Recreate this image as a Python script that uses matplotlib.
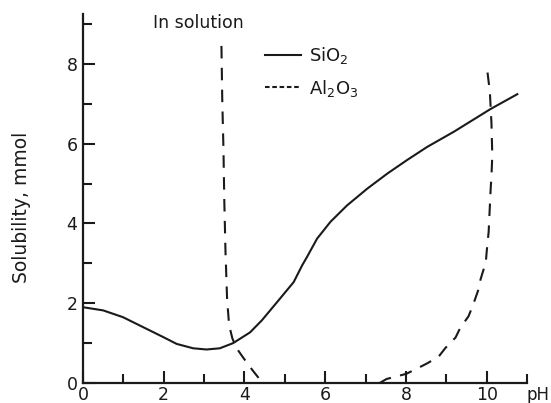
import matplotlib
matplotlib.use("Agg")
import matplotlib.pyplot as plt
from matplotlib.lines import Line2D
from matplotlib.ticker import MultipleLocator

plt.rcParams['font.family'] = ['DejaVu Sans']
plt.rcParams['mathtext.default'] = 'regular'

# SiO2 solubility (solid)
sio2_ph = [0.0, 0.50, 0.99, 1.49, 1.99, 2.32, 2.73, 3.06, 3.39, 3.72, 4.14, 4.43,
           4.81, 5.22, 5.43, 5.55, 5.80, 6.13, 6.54, 7.04, 7.54, 8.03, 8.53,
           9.19, 10.10, 10.76]
sio2_sol = [1.90, 1.82, 1.65, 1.40, 1.15, 0.98, 0.87, 0.84, 0.87, 1.00, 1.27, 1.57,
            2.03, 2.53, 2.95, 3.16, 3.62, 4.04, 4.45, 4.87, 5.25, 5.59, 5.92,
            6.30, 6.87, 7.24]

# Al2O3 solubility (dashed), acid branch
al_acid_ph = [3.43, 3.45, 3.48, 3.50, 3.53, 3.57, 3.62, 3.70, 3.80, 3.98, 4.20, 4.45]
al_acid_sol = [8.45, 7.10, 5.85, 4.60, 3.30, 2.10, 1.45, 1.12, 0.88, 0.62, 0.32, 0.0]

# Al2O3 solubility (dashed), alkaline branch
al_alk_ph = [7.35, 7.52, 8.01, 8.31, 8.54, 8.81, 8.98, 9.23, 9.35, 9.55, 9.65, 9.80,
             9.85, 9.98, 10.00, 10.05, 10.08, 10.10, 10.12, 10.14, 10.13, 10.12,
             10.10, 10.08, 10.02]
al_alk_sol = [0.0, 0.10, 0.23, 0.38, 0.50, 0.66, 0.88, 1.14, 1.39, 1.67, 1.92, 2.35,
              2.60, 3.03, 3.28, 3.79, 4.44, 4.87, 5.20, 5.70, 6.10, 6.50,
              6.90, 7.30, 7.80]

x_major = [0, 2, 4, 6, 8, 10]
y_major = [0, 2, 4, 6, 8]

ink = '#1a1a1a'

fig = plt.figure(figsize=(5.51, 4.03), dpi=100)
ax = fig.add_axes([83/551, 1 - 383/403, (527 - 83)/551, (383 - 14)/403])

ax.plot(sio2_ph, sio2_sol, color=ink, lw=1.5, solid_joinstyle='round')
dash = (0, (6, 4.5))
ax.plot(al_acid_ph, al_acid_sol, color=ink, lw=1.5, linestyle=dash)
ax.plot(al_alk_ph, al_alk_sol, color=ink, lw=1.5, linestyle=dash)

ax.set_xlim(0, 11)
ax.set_ylim(0, 9.25)
ax.set_xticks(x_major)
ax.set_yticks(y_major)
ax.xaxis.set_minor_locator(MultipleLocator(1))
ax.yaxis.set_minor_locator(MultipleLocator(1))

for s in ['top', 'right']:
    ax.spines[s].set_visible(False)
for s in ['left', 'bottom']:
    ax.spines[s].set_linewidth(1.6)
    ax.spines[s].set_color(ink)

ax.tick_params(which='major', direction='in', length=8.5, width=1.5, labelsize=12.5,
               colors=ink)
ax.tick_params(which='minor', direction='in', length=6.5, width=1.5, colors=ink)
ax.tick_params(axis='x', which='major', pad=2.2)
ax.tick_params(axis='y', which='major', pad=4)

ax.set_ylabel('Solubility, mmol', fontsize=13.5, color=ink)
ax.yaxis.set_label_coords(-0.118, 0.475)

ax.text(10.98, -0.3, 'pH', fontsize=12, ha='left', va='center', color=ink,
        clip_on=False)
ax.text(2.85, 9.02, 'In solution', fontsize=12.5, ha='center', va='center',
        color=ink, clip_on=False)

handles = [Line2D([], [], color=ink, lw=1.5),
           Line2D([], [], color=ink, lw=1.5, linestyle=(0, (2.2, 1.3)))]
leg = ax.legend(handles, ['SiO$_2$', 'Al$_2$O$_3$'], loc='upper left',
                bbox_to_anchor=(265/551, 1 - 45/403), bbox_transform=fig.transFigure,
                frameon=False, fontsize=13, handlelength=2.0, handletextpad=0.45,
                labelspacing=0.65, borderpad=0, borderaxespad=0)
for t in leg.get_texts():
    t.set_color(ink)

fig.savefig('out.png', dpi=100, facecolor='white')
